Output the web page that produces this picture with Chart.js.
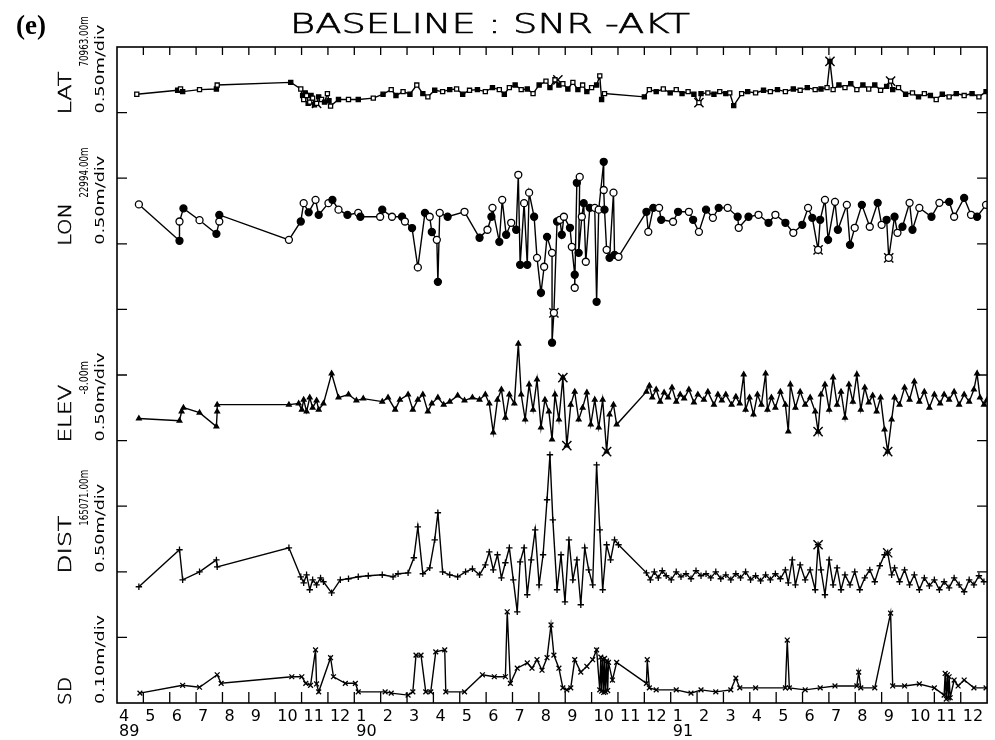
<!DOCTYPE html>
<html><head><meta charset="utf-8">
<script src="https://cdn.jsdelivr.net/npm/chart.js@4.4.1/dist/chart.umd.min.js"></script>
<style>html,body{margin:0;padding:0;background:#fff}canvas{display:block}</style>
</head><body>
<canvas id="c" width="995" height="740"></canvas>
<script>
// x: months since 1 April 1989; values in metres relative to each panel's reference line
const monthLabels = ['4','5','6','7','8','9','10','11','12','1','2','3','4','5','6','7','8','9','10','11','12','1','2','3','4','5','6','7','8','9','10','11','12',''];
const yearLabels = {0:'89', 9:'90', 21:'91'};

const panels = [
  {name:'LAT',  ref:'70963.00m',  scaleTxt:'0.50m/div', base:9, perDiv:0.5},
  {name:'LON',  ref:'22994.00m',  scaleTxt:'0.50m/div', base:7, perDiv:0.5},
  {name:'ELEV', ref:'-8.00m',     scaleTxt:'0.50m/div', base:4, perDiv:0.5},
  {name:'DIST', ref:'165071.00m', scaleTxt:'0.50m/div', base:2, perDiv:0.5},
  {name:'SD',   ref:'',           scaleTxt:'0.10m/div', base:0, perDiv:0.1}
];

const LAT = [[0.75,0.14],[2.30,0.17],[2.41,0.18],[2.49,0.16],[3.13,0.175],[3.77,0.18],[3.80,0.21],[6.59,0.23],[6.97,0.18],[7.04,0.13],[7.08,0.10],[7.14,0.15],[7.19,0.13],[7.25,0.07],[7.31,0.08],[7.36,0.13],[7.42,0.11],[7.49,0.06],[7.57,0.07],[7.65,0.12],[7.76,0.10],[7.87,0.08],[7.98,0.145],[8.04,0.09],[8.10,0.05],[8.40,0.10],[8.78,0.10],[9.15,0.10],[9.72,0.11],[10.09,0.14],[10.40,0.175],[10.58,0.13],[10.85,0.16],[11.11,0.14],[11.37,0.21],[11.60,0.145],[11.79,0.12],[12.05,0.17],[12.35,0.16],[12.62,0.175],[12.88,0.18],[13.11,0.14],[13.37,0.17],[13.67,0.175],[13.97,0.16],[14.24,0.19],[14.50,0.175],[14.69,0.14],[14.88,0.19],[15.10,0.21],[15.33,0.175],[15.56,0.18],[15.78,0.145],[16.01,0.21],[16.27,0.24],[16.42,0.19],[16.61,0.25],[16.76,0.21],[16.91,0.22],[17.10,0.18],[17.29,0.23],[17.48,0.175],[17.66,0.21],[17.82,0.16],[18.00,0.19],[18.19,0.21],[18.31,0.28],[18.38,0.10],[18.49,0.145],[20.00,0.12],[20.19,0.175],[20.45,0.16],[20.72,0.18],[20.98,0.15],[21.21,0.175],[21.43,0.145],[21.66,0.16],[21.88,0.14],[22.07,0.076],[22.15,0.145],[22.41,0.15],[22.64,0.14],[22.86,0.16],[23.09,0.145],[23.24,0.15],[23.39,0.053],[23.69,0.145],[23.92,0.16],[24.22,0.15],[24.52,0.17],[24.78,0.16],[25.05,0.175],[25.35,0.16],[25.65,0.18],[25.91,0.17],[26.18,0.19],[26.48,0.175],[26.70,0.18],[26.93,0.19],[27.04,0.39],[27.16,0.175],[27.38,0.21],[27.61,0.19],[27.83,0.22],[28.06,0.175],[28.29,0.21],[28.51,0.18],[28.74,0.21],[28.96,0.17],[29.19,0.20],[29.34,0.24],[29.42,0.175],[29.64,0.19],[29.91,0.14],[30.17,0.15],[30.40,0.12],[30.62,0.145],[30.85,0.13],[31.07,0.10],[31.30,0.14],[31.56,0.12],[31.83,0.145],[32.13,0.13],[32.43,0.145],[32.69,0.12],[32.96,0.16]];
const LAT_X = [[7.57,0.07],[16.72,0.25],[22.07,0.076],[27.04,0.39],[29.34,0.24]];

const LON = [[0.83,0.30],[2.37,0.023],[2.37,0.17],[2.52,0.27],[3.13,0.18],[3.77,0.076],[3.88,0.17],[3.88,0.22],[6.52,0.03],[6.97,0.17],[7.08,0.31],[7.27,0.24],[7.53,0.335],[7.65,0.22],[8.02,0.31],[8.17,0.335],[8.40,0.26],[8.74,0.22],[9.15,0.236],[9.23,0.206],[9.98,0.206],[10.06,0.26],[10.43,0.206],[10.81,0.206],[10.92,0.17],[11.19,0.12],[11.41,-0.18],[11.68,0.236],[11.86,0.206],[11.94,0.09],[12.13,0.03],[12.17,-0.29],[12.24,0.236],[12.54,0.206],[13.18,0.244],[13.75,0.046],[14.05,0.107],[14.20,0.206],[14.24,0.274],[14.50,0.015],[14.61,0.335],[14.76,0.069],[14.95,0.16],[15.14,0.107],[15.22,0.526],[15.29,-0.16],[15.44,0.31],[15.56,-0.16],[15.63,0.39],[15.82,0.206],[15.93,-0.107],[16.08,-0.373],[16.20,-0.175],[16.31,0.053],[16.50,-0.069],[16.50,-0.754],[16.57,-0.526],[16.69,0.17],[16.80,0.183],[16.87,0.069],[16.95,0.206],[17.18,0.122],[17.25,-0.023],[17.36,-0.236],[17.36,-0.335],[17.44,0.465],[17.55,0.51],[17.51,-0.069],[17.63,0.206],[17.70,0.31],[17.78,-0.137],[17.93,0.274],[18.12,0.274],[18.19,-0.442],[18.27,0.26],[18.46,0.625],[18.46,0.41],[18.49,0.26],[18.57,-0.046],[18.68,-0.107],[18.83,0.39],[18.87,-0.084],[19.02,-0.099],[20.08,0.244],[20.15,0.091],[20.34,0.274],[20.56,0.274],[20.64,0.183],[21.09,0.168],[21.28,0.244],[21.69,0.244],[21.85,0.183],[22.07,0.091],[22.34,0.26],[22.60,0.198],[22.82,0.274],[23.16,0.274],[23.54,0.206],[23.58,0.122],[23.95,0.206],[24.33,0.221],[24.71,0.16],[24.97,0.221],[25.35,0.16],[25.65,0.084],[25.99,0.145],[26.21,0.274],[26.37,0.198],[26.59,-0.046],[26.67,0.183],[26.85,0.335],[26.97,0.03],[27.23,0.32],[27.34,0.107],[27.68,0.297],[27.80,-0.008],[27.98,0.122],[28.25,0.297],[28.55,0.13],[28.85,0.312],[29.00,0.145],[29.19,0.183],[29.27,-0.107],[29.49,0.206],[29.60,0.084],[29.79,0.13],[30.06,0.312],[30.17,0.107],[30.43,0.274],[30.89,0.206],[31.19,0.312],[31.56,0.32],[31.75,0.206],[32.13,0.35],[32.39,0.221],[32.62,0.206],[32.96,0.297]];
const LON_X = [[16.57,-0.526],[26.59,-0.046],[29.27,-0.107]];

const ELEV = [[0.83,0.168],[2.37,0.152],[2.45,0.221],[2.52,0.251],[3.13,0.213],[3.77,0.107],[3.80,0.221],[3.80,0.274],[6.52,0.274],[6.89,0.282],[7.01,0.236],[7.08,0.312],[7.19,0.221],[7.31,0.328],[7.42,0.251],[7.57,0.305],[7.65,0.236],[7.83,0.282],[8.14,0.511],[8.40,0.328],[8.78,0.351],[9.08,0.305],[9.34,0.32],[10.06,0.297],[10.28,0.328],[10.55,0.236],[10.73,0.312],[11.04,0.351],[11.22,0.236],[11.41,0.312],[11.60,0.351],[11.79,0.221],[11.94,0.282],[12.17,0.328],[12.39,0.274],[12.62,0.297],[12.92,0.343],[13.18,0.305],[13.48,0.328],[13.75,0.312],[13.97,0.351],[14.12,0.282],[14.27,0.061],[14.43,0.312],[14.58,0.389],[14.73,0.175],[14.88,0.351],[15.07,0.282],[15.22,0.739],[15.33,0.351],[15.48,0.16],[15.63,0.427],[15.78,0.236],[15.93,0.465],[16.08,0.099],[16.23,0.312],[16.38,0.221],[16.50,0.008],[16.61,0.351],[16.76,0.16],[16.91,0.48],[17.06,-0.038],[17.21,0.274],[17.36,0.373],[17.51,0.16],[17.66,0.251],[17.82,0.366],[17.97,0.122],[18.12,0.312],[18.27,0.099],[18.42,0.312],[18.57,-0.084],[18.68,0.198],[18.83,0.274],[18.95,0.122],[20.08,0.373],[20.19,0.419],[20.30,0.328],[20.45,0.389],[20.60,0.297],[20.75,0.366],[20.90,0.328],[21.05,0.404],[21.21,0.297],[21.36,0.351],[21.51,0.32],[21.69,0.389],[21.88,0.29],[22.03,0.351],[22.26,0.312],[22.41,0.373],[22.64,0.274],[22.79,0.351],[22.94,0.305],[23.09,0.351],[23.31,0.274],[23.47,0.335],[23.62,0.282],[23.77,0.503],[23.84,0.236],[23.99,0.328],[24.14,0.198],[24.29,0.351],[24.44,0.274],[24.60,0.511],[24.67,0.236],[24.82,0.328],[24.97,0.251],[25.16,0.373],[25.35,0.274],[25.46,0.069],[25.54,0.427],[25.73,0.251],[25.91,0.373],[26.10,0.274],[26.29,0.328],[26.48,0.221],[26.59,0.069],[26.70,0.351],[26.85,0.427],[27.01,0.236],[27.16,0.48],[27.31,0.274],[27.46,0.373],[27.61,0.175],[27.76,0.427],[27.91,0.297],[28.06,0.503],[28.21,0.236],[28.36,0.404],[28.51,0.29],[28.66,0.343],[28.81,0.221],[28.96,0.328],[29.11,0.084],[29.23,-0.084],[29.38,0.16],[29.49,0.328],[29.68,0.274],[29.87,0.404],[30.06,0.312],[30.24,0.45],[30.43,0.297],[30.62,0.373],[30.81,0.251],[31.00,0.351],[31.22,0.282],[31.37,0.351],[31.56,0.312],[31.75,0.373],[31.94,0.274],[32.13,0.351],[32.32,0.297],[32.50,0.389],[32.62,0.511],[32.73,0.328],[32.88,0.274],[33.00,0.312]];
const ELEV_X = [[16.91,0.48],[17.06,-0.038],[18.57,-0.084],[26.59,0.069],[29.23,-0.084]];

const DIST = [[0.83,-0.114],[2.37,0.168],[2.49,-0.061],[3.13,0],[3.77,0.091],[3.80,0.038],[6.52,0.183],[6.97,-0.038],[7.08,-0.084],[7.19,-0.023],[7.31,-0.137],[7.42,-0.061],[7.57,-0.099],[7.72,-0.046],[7.83,-0.076],[8.14,-0.16],[8.47,-0.061],[8.78,-0.053],[9.15,-0.038],[9.53,-0.03],[10.06,-0.023],[10.47,-0.038],[10.66,-0.015],[11.04,-0.008],[11.26,0.107],[11.41,0.343],[11.60,-0.015],[11.86,0.03],[12.05,0.244],[12.17,0.45],[12.35,0],[12.62,-0.023],[12.92,-0.038],[13.22,0],[13.48,0.023],[13.75,-0.023],[13.97,0.053],[14.12,0.152],[14.27,0.015],[14.43,0.13],[14.58,-0.046],[14.73,0.069],[14.88,0.183],[15.03,-0.061],[15.18,-0.305],[15.29,0.076],[15.44,0.183],[15.56,-0.175],[15.71,0.091],[15.86,0.32],[16.01,-0.099],[16.16,0.13],[16.31,0.549],[16.42,0.892],[16.53,0.396],[16.69,-0.137],[16.84,0.13],[16.99,-0.229],[17.14,0.244],[17.29,-0.061],[17.44,0.091],[17.59,-0.251],[17.74,0.183],[17.89,0.015],[18.04,-0.099],[18.19,0.815],[18.31,0.32],[18.42,-0.137],[18.57,0.206],[18.72,0.091],[18.87,0.244],[19.02,0.206],[20.08,-0.008],[20.23,-0.061],[20.38,0],[20.53,-0.046],[20.68,0.008],[20.83,-0.03],[21.02,-0.061],[21.21,0],[21.39,-0.038],[21.58,-0.015],[21.77,-0.053],[21.96,0.008],[22.15,-0.03],[22.34,-0.015],[22.52,-0.046],[22.71,0],[22.90,-0.053],[23.09,-0.023],[23.28,-0.061],[23.47,-0.015],[23.65,-0.046],[23.84,0],[24.03,-0.061],[24.22,-0.03],[24.41,-0.069],[24.60,-0.023],[24.78,-0.061],[24.97,-0.015],[25.16,-0.053],[25.35,0.015],[25.46,-0.084],[25.61,0.091],[25.73,-0.099],[25.91,0.053],[26.10,-0.061],[26.29,0.015],[26.48,-0.137],[26.59,0.206],[26.70,0.015],[26.85,-0.175],[27.01,0.091],[27.16,-0.099],[27.31,0.03],[27.46,-0.137],[27.61,-0.023],[27.80,-0.099],[27.98,0],[28.17,-0.137],[28.36,-0.046],[28.55,0.015],[28.74,-0.076],[28.93,0.046],[29.11,0.13],[29.23,0.145],[29.38,-0.023],[29.49,0.03],[29.68,-0.076],[29.87,0.015],[30.06,-0.099],[30.24,-0.023],[30.43,-0.137],[30.62,-0.046],[30.81,-0.107],[31.00,-0.061],[31.19,-0.137],[31.37,-0.076],[31.56,-0.122],[31.75,-0.046],[31.94,-0.099],[32.13,-0.152],[32.32,-0.061],[32.50,-0.099],[32.69,-0.03],[32.88,-0.076]];
const DIST_X = [[26.59,0.206],[29.23,0.145]];

const SD = [[0.87,0.015],[2.49,0.027],[3.13,0.024],[3.80,0.043],[3.95,0.030],[6.63,0.040],[7.01,0.040],[7.16,0.030],[7.34,0.027],[7.53,0.081],[7.57,0.029],[7.65,0.017],[8.10,0.069],[8.21,0.040],[8.66,0.030],[9.04,0.030],[9.15,0.017],[10.17,0.017],[10.40,0.015],[11.04,0.012],[11.22,0.017],[11.34,0.073],[11.53,0.073],[11.71,0.017],[11.90,0.017],[12.09,0.078],[12.43,0.081],[12.47,0.017],[13.18,0.017],[13.86,0.043],[14.31,0.040],[14.73,0.040],[14.80,0.139],[14.92,0.030],[15.18,0.053],[15.56,0.061],[15.74,0.053],[15.93,0.066],[16.12,0.050],[16.31,0.069],[16.46,0.119],[16.57,0.073],[16.76,0.053],[16.91,0.023],[17.06,0.020],[17.21,0.023],[17.36,0.066],[17.59,0.047],[17.82,0.056],[18.04,0.066],[18.19,0.081],[18.31,0.020],[18.35,0.070],[18.38,0.018],[18.42,0.066],[18.46,0.016],[18.49,0.068],[18.53,0.017],[18.57,0.064],[18.61,0.019],[18.64,0.062],[18.79,0.035],[18.95,0.062],[20.08,0.030],[20.11,0.066],[20.19,0.023],[20.45,0.020],[21.21,0.020],[21.77,0.015],[22.15,0.020],[22.71,0.017],[23.28,0.020],[23.47,0.038],[23.62,0.023],[24.22,0.023],[25.35,0.023],[25.42,0.096],[25.50,0.023],[26.10,0.020],[26.67,0.023],[27.23,0.026],[28.06,0.026],[28.13,0.047],[28.21,0.023],[28.74,0.023],[29.34,0.137],[29.42,0.026],[29.87,0.026],[30.43,0.029],[31.00,0.023],[31.37,0.012],[31.41,0.045],[31.45,0.006],[31.49,0.043],[31.53,0.008],[31.56,0.040],[31.60,0.008],[31.75,0.035],[31.90,0.026],[32.13,0.035],[32.50,0.023],[32.96,0.023]];

function toXY(arr, p){ return arr.map(d => ({x:d[0], y:p.base + d[1]/p.perDiv})); }

const markers = [
  {style:'rect', r:2.9, alt:true},
  {style:'circle', r:3.5, alt:true},
  {style:'triangle', r:2.7, alt:false},
  {style:'cross', r:3.2, alt:false},
  {style:'crossRot', r:3.4, alt:false}
];
const series = [LAT, LON, ELEV, DIST, SD];
const outliers = [LAT_X, LON_X, ELEV_X, DIST_X, []];

const datasets = [];
series.forEach((s, i) => {
  const mk = markers[i];
  datasets.push({
    data: toXY(s, panels[i]), showLine:true, borderColor:'#000', borderWidth:1.4,
    pointStyle: mk.style, pointRadius: mk.r,
    pointBackgroundColor: mk.alt ? (c => (c.dataIndex % 2 ? '#000' : '#fff')) : '#000',
    pointBorderColor:'#000', pointBorderWidth:1.3, tension:0
  });
  if (outliers[i].length) datasets.push({
    data: toXY(outliers[i], panels[i]), showLine:false, pointStyle:'crossRot', pointRadius:6.5,
    pointBorderColor:'#000', pointBorderWidth:1.4
  });
});

function rotText(ctx, txt, cx, yBottom, font, len, thick){
  ctx.save();
  ctx.font = font;
  ctx.translate(cx, yBottom);
  ctx.rotate(-Math.PI/2);
  const w = ctx.measureText(txt).width;
  ctx.scale(len / w, 1);
  ctx.textAlign = 'left'; ctx.textBaseline = 'middle';
  ctx.fillText(txt, 0, 0);
  if (thick){ ctx.lineWidth = thick; ctx.strokeText(txt, 0, 0); }
  ctx.restore();
}

const decor = {
  id:'decor',
  afterDraw(chart){
    const ctx = chart.ctx, xs = chart.scales.x, ys = chart.scales.y, a = chart.chartArea;
    ctx.save();
    ctx.strokeStyle = '#000'; ctx.fillStyle = '#000'; ctx.lineWidth = 1.6;
    ctx.strokeRect(a.left, a.top, a.right - a.left, a.bottom - a.top);
    ctx.lineWidth = 1.3;
    ctx.beginPath();
    for (let i = 1; i < monthLabels.length - 1; i++){
      const px = xs.getPixelForValue(i);
      ctx.moveTo(px, a.bottom); ctx.lineTo(px, a.bottom - 11);
      ctx.moveTo(px, a.top); ctx.lineTo(px, a.top + 8);
    }
    for (let k = 1; k < 10; k++){
      const py = ys.getPixelForValue(k);
      ctx.moveTo(a.left, py); ctx.lineTo(a.left + 10, py);
      ctx.moveTo(a.right, py); ctx.lineTo(a.right - 10, py);
    }
    ctx.stroke();
    // title
    ctx.font = '200 26px "DejaVu Sans"';
    ctx.textBaseline = 'alphabetic'; ctx.textAlign = 'left';
    const t = 'BASELINE : SNR -AKT';
    const tw = ctx.measureText(t).width;
    ctx.save(); ctx.translate(290, 33); ctx.scale(400 / tw, 1);
    ctx.fillText(t, 0, 0); ctx.lineWidth = 0.6; ctx.strokeText(t, 0, 0); ctx.restore();
    ctx.font = 'bold 27px "Liberation Serif"';
    ctx.fillText('(e)', 16, 34);
    // panel labels
    panels.forEach(p => {
      const yb = ys.getPixelForValue(p.base);
      rotText(ctx, p.name, 67, yb + 2, '200 17px "DejaVu Sans"', 15 * p.name.length - 2, 0.5);
      if (p.ref) rotText(ctx, p.ref, 85, yb - 46, '12px "DejaVu Sans"', 5.6 * p.ref.length, 0);
      rotText(ctx, p.scaleTxt, 101, yb + 1, '12px "DejaVu Sans"', 89, 0);
    });
    ctx.restore();
  }
};

new Chart(document.getElementById('c'), {
  type:'scatter',
  data:{datasets},
  options:{
    responsive:false, animation:false, events:[],
    layout:{padding:{left:117, top:47, right:2, bottom:0}},
    scales:{
      x:{type:'linear', min:0, max:33,
        afterBuildTicks(s){ s.ticks = monthLabels.map((_, i) => ({value:i})); },
        afterFit(s){ s.height = 37; },
        grid:{display:false, drawTicks:false}, border:{display:false},
        ticks:{autoSkip:false, maxRotation:0, padding:6, align:'start', labelOffset:2, color:'#000',
          font:{family:'"DejaVu Sans"', size:16, lineHeight:0.95},
          callback:(v, i) => yearLabels[i] ? [monthLabels[i], yearLabels[i]] : monthLabels[i]}
      },
      y:{type:'linear', min:0, max:10, display:false}
    },
    plugins:{legend:{display:false}, tooltip:{enabled:false}}
  },
  plugins:[decor]
});
</script>
</body></html>
